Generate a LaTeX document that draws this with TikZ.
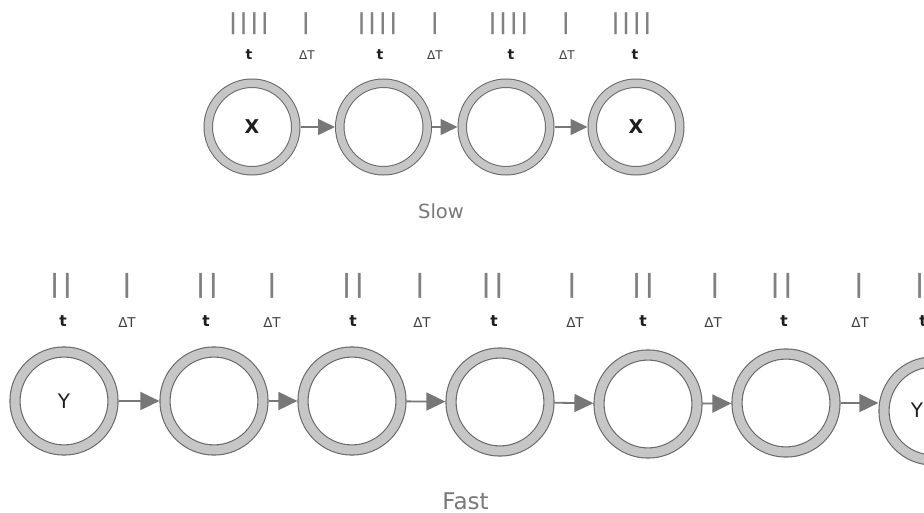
\documentclass[tikz,border=0pt]{standalone}
\usepackage{fontspec}
\setmainfont{DejaVu Sans}
\usetikzlibrary{arrows.meta}
\definecolor{ringfill}{HTML}{C6C6C6}
\definecolor{ringline}{HTML}{666666}
\definecolor{arrcol}{HTML}{777777}
\definecolor{barcol}{HTML}{808080}
\definecolor{txtcol}{HTML}{1E1E1E}
\definecolor{capcol}{HTML}{787878}
\newcommand\fourbars{|\kern2.6pt|\kern2.6pt|\kern2.6pt|}
\newcommand\twobars{|\kern3.6pt|}
\tikzset{
  ringtop/.style={circle, draw=ringline, double=ringfill, double distance=7.5pt,
    line width=1pt, fill=white, minimum size=87.5pt, inner sep=0pt, outer sep=4.75pt,
    font=\fontsize{19}{19}\selectfont\bfseries, text=txtcol},
  ringbot/.style={circle, draw=ringline, double=ringfill, double distance=9pt,
    line width=1.1pt, fill=white, minimum size=98pt, inner sep=0pt, outer sep=5.6pt,
    font=\fontsize{20}{20}\selectfont, text=txtcol},
  arrtop/.style={draw=arrcol, line width=1.6pt, -{Triangle[length=17pt,width=16pt]}, arrcol},
  arrbot/.style={draw=arrcol, line width=1.8pt, -{Triangle[length=19pt,width=18pt]}, arrcol},
  barstop/.style={inner sep=0pt, text=barcol, font=\fontsize{22}{22}\selectfont\bfseries},
  barsbot/.style={inner sep=0pt, text=barcol, font=\fontsize{25}{25}\selectfont\bfseries},
  ttop/.style={inner sep=0pt, anchor=base, text=txtcol, font=\fontsize{14}{14}\selectfont\bfseries},
  dtop/.style={inner sep=0pt, anchor=base, text=txtcol!85, font=\fontsize{12}{12}\selectfont},
  tbot/.style={inner sep=0pt, anchor=base, text=txtcol, font=\fontsize{15.5}{15.5}\selectfont\bfseries},
  dbot/.style={inner sep=0pt, anchor=base, text=txtcol!85, font=\fontsize{13.5}{13.5}\selectfont},
  caption/.style={inner sep=0pt, anchor=base, text=capcol},
}
\begin{document}
\begin{tikzpicture}[x=1pt, y=-1pt]
\clip (0,0) rectangle (924,513);
\fill[white] (0,0) rectangle (924,513);

% ---------- Slow row ----------
\node[ringtop] (s1) at (252,127) {X};
\node[ringtop] (s2) at (383.5,127) {};
\node[ringtop] (s3) at (506,127) {};
\node[ringtop] (s4) at (636,127) {X};
\draw[arrtop] (s1) -- (s2);
\draw[arrtop] (s2) -- (s3);
\draw[arrtop] (s3) -- (s4);

\node[barstop] (sb1) at (249,24) {\fourbars};
\node[barstop] (sd1) at (306,24) {|};
\node[ttop] (st1) at (249,59.5) {t};
\node[dtop] (sT1) at (307,59.5) {ΔT};
\node[barstop] (sb2) at (377.5,24) {\fourbars};
\node[barstop] (sd2) at (435,24) {|};
\node[ttop] (st2) at (380,59.5) {t};
\node[dtop] (sT2) at (435,59.5) {ΔT};
\node[barstop] (sb3) at (508.5,24) {\fourbars};
\node[barstop] (sd3) at (566,24) {|};
\node[ttop] (st3) at (511,59.5) {t};
\node[dtop] (sT3) at (567,59.5) {ΔT};
\node[barstop] (sb4) at (631.5,24) {\fourbars};
\node[ttop] (st4) at (635,59.5) {t};

\node[caption, font=\fontsize{19.5}{19.5}\selectfont] (slow) at (441,219) {Slow};

% ---------- Fast row ----------
\node[ringbot] (c1) at (64,401) {Y};
\node[ringbot] (c2) at (214,401) {};
\node[ringbot] (c3) at (352,401) {};
\node[ringbot] (c4) at (500,402) {};
\node[ringbot] (c5) at (648,404) {};
\node[ringbot] (c6) at (786,403) {};
\node[ringbot] (c7) at (933,411) {};
\node[inner sep=0pt, text=txtcol, font=\fontsize{20}{20}\selectfont] (y7) at (917,410) {Y};
\draw[arrbot] (c1) -- (c2);
\draw[arrbot] (c2) -- (c3);
\draw[arrbot] (c3) -- (c4);
\draw[arrbot] (c4) -- (c5);
\draw[arrbot] (c5) -- (c6);
\draw[arrbot] (c6.east) -- (c6.east -| c7.west);

\node[barsbot] (fb1) at (61,286) {\twobars};
\node[barsbot] (fd1) at (127,286) {|};
\node[tbot] (ft1) at (63,326.5) {t};
\node[dbot] (fT1) at (127,327.5) {ΔT};
\node[barsbot] (fb2) at (207,286) {\twobars};
\node[barsbot] (fd2) at (272,286) {|};
\node[tbot] (ft2) at (206,326.5) {t};
\node[dbot] (fT2) at (272,327.5) {ΔT};
\node[barsbot] (fb3) at (353,286) {\twobars};
\node[barsbot] (fd3) at (420,286) {|};
\node[tbot] (ft3) at (353,326.5) {t};
\node[dbot] (fT3) at (422,327.5) {ΔT};
\node[barsbot] (fb4) at (492.5,286) {\twobars};
\node[barsbot] (fd4) at (572,286) {|};
\node[tbot] (ft4) at (494,326.5) {t};
\node[dbot] (fT4) at (575,327.5) {ΔT};
\node[barsbot] (fb5) at (643,286) {\twobars};
\node[barsbot] (fd5) at (715,286) {|};
\node[tbot] (ft5) at (643,326.5) {t};
\node[dbot] (fT5) at (713,327.5) {ΔT};
\node[barsbot] (fb6) at (781.5,286) {\twobars};
\node[barsbot] (fd6) at (859,286) {|};
\node[tbot] (ft6) at (784,326.5) {t};
\node[dbot] (fT6) at (860,327.5) {ΔT};
\node[barsbot] (fb7) at (926,286) {\twobars};
\node[tbot] (ft7) at (923,326.5) {t};

\node[caption, font=\fontsize{23}{23}\selectfont] (fast) at (465.5,509) {Fast};
\end{tikzpicture}
\end{document}
